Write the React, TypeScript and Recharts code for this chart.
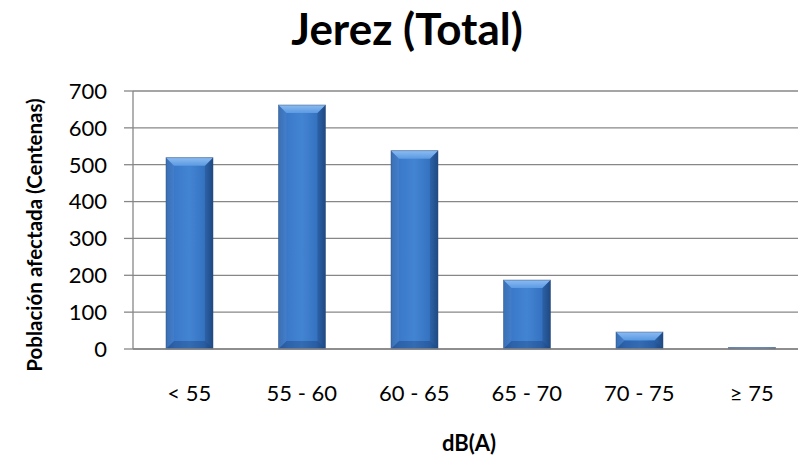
import React from 'react';
import { BarChart, Bar, XAxis, YAxis, CartesianGrid } from 'recharts';

const categories = ['< 55', '55 - 60', '60 - 65', '65 - 70', '70 - 75', '≥ 75'];
const values = [519, 662, 538, 187, 46, 4];
const yTicks = [0, 100, 200, 300, 400, 500, 600, 700];

const data = categories.map((c, i) => ({ name: c, value: values[i] }));

const BevelBar = (props: any) => {
  const { x, y, width, height } = props;
  if (!height || height <= 0) return null;
  const b = Math.min(8, height / 2, width / 2);
  const r = x + width;
  const btm = y + height;
  return (
    <g>
      <rect x={x} y={y} width={width} height={height} fill="url(#barBody)" />
      {height > 4 && (
        <>
          <polygon points={`${x},${y} ${r},${y} ${r - b},${y + b} ${x + b},${y + b}`} fill="url(#barTop)" />
          <polygon points={`${x},${y} ${x + b},${y + b} ${x + b},${btm - b} ${x},${btm}`} fill="rgba(255,255,255,0.05)" />
          <polygon points={`${r},${y} ${r - b},${y + b} ${r - b},${btm - b} ${r},${btm}`} fill="rgba(0,20,60,0.14)" />
          <polygon points={`${x},${btm} ${x + b},${btm - b} ${r - b},${btm - b} ${r},${btm}`} fill="rgba(0,20,60,0.22)" />
        </>
      )}
      <rect x={x} y={y} width={width} height={height} fill="none" stroke="#2d4f7e" strokeOpacity={0.6} strokeWidth={0.8} />
    </g>
  );
};

export default function App() {
  return (
    <div style={{ position: 'absolute', left: 0, top: 0, width: 798, height: 459, overflow: 'hidden', background: '#fff' }}>
      <BarChart
        width={810}
        height={459}
        data={data}
        margin={{ top: 91, right: 2, bottom: 80, left: 60 }}
        barSize={47}
      >
        <defs>
          <linearGradient id="barBody" x1="0" y1="0" x2="1" y2="0">
            <stop offset="0%" stopColor="#3068b0" />
            <stop offset="20%" stopColor="#3b7acb" />
            <stop offset="50%" stopColor="#4384d2" />
            <stop offset="80%" stopColor="#3674c2" />
            <stop offset="100%" stopColor="#25528f" />
          </linearGradient>
          <linearGradient id="barTop" x1="0" y1="0" x2="0" y2="1">
            <stop offset="0%" stopColor="#8cbcf2" />
            <stop offset="100%" stopColor="#5b9ae2" />
          </linearGradient>
        </defs>
        <CartesianGrid vertical={false} stroke="#878787" strokeWidth={1.3} />
        <XAxis
          dataKey="name"
          height={30}
          tickLine={false}
          tickSize={0}
          tickMargin={36}
          axisLine={{ stroke: '#878787', strokeWidth: 1.3 }}
          tick={{ fill: '#000', fontFamily: 'Lato', fontSize: 22 }}
          interval={0}
        />
        <YAxis
          domain={[0, 700]}
          ticks={yTicks}
          width={73}
          tickSize={9}
          tickMargin={17}
          axisLine={{ stroke: '#878787', strokeWidth: 1.3 }}
          tickLine={{ stroke: '#878787', strokeWidth: 1.3 }}
          tick={{ fill: '#000', fontFamily: 'Lato', fontSize: 22 }}
          interval={0}
        />
        <Bar dataKey="value" isAnimationActive={false} shape={<BevelBar />} />
      </BarChart>
      <svg width={798} height={459} style={{ position: 'absolute', left: 0, top: 0, pointerEvents: 'none' }}>
        <text x={407} y={45} textAnchor="middle" fontFamily="Lato" fontWeight="bold" fontSize={44} fill="#000">
          Jerez (Total)
        </text>
        <text
          x={0}
          y={0}
          transform="translate(42,235) rotate(-90)"
          textAnchor="middle"
          fontFamily="Lato"
          fontWeight="bold"
          fontSize={20.5}
          fill="#000"
        >
          Población afectada (Centenas)
        </text>
        <text x={469} y={451} textAnchor="middle" fontFamily="Lato" fontWeight="bold" fontSize={22} fill="#000">
          dB(A)
        </text>
      </svg>
    </div>
  );
}
